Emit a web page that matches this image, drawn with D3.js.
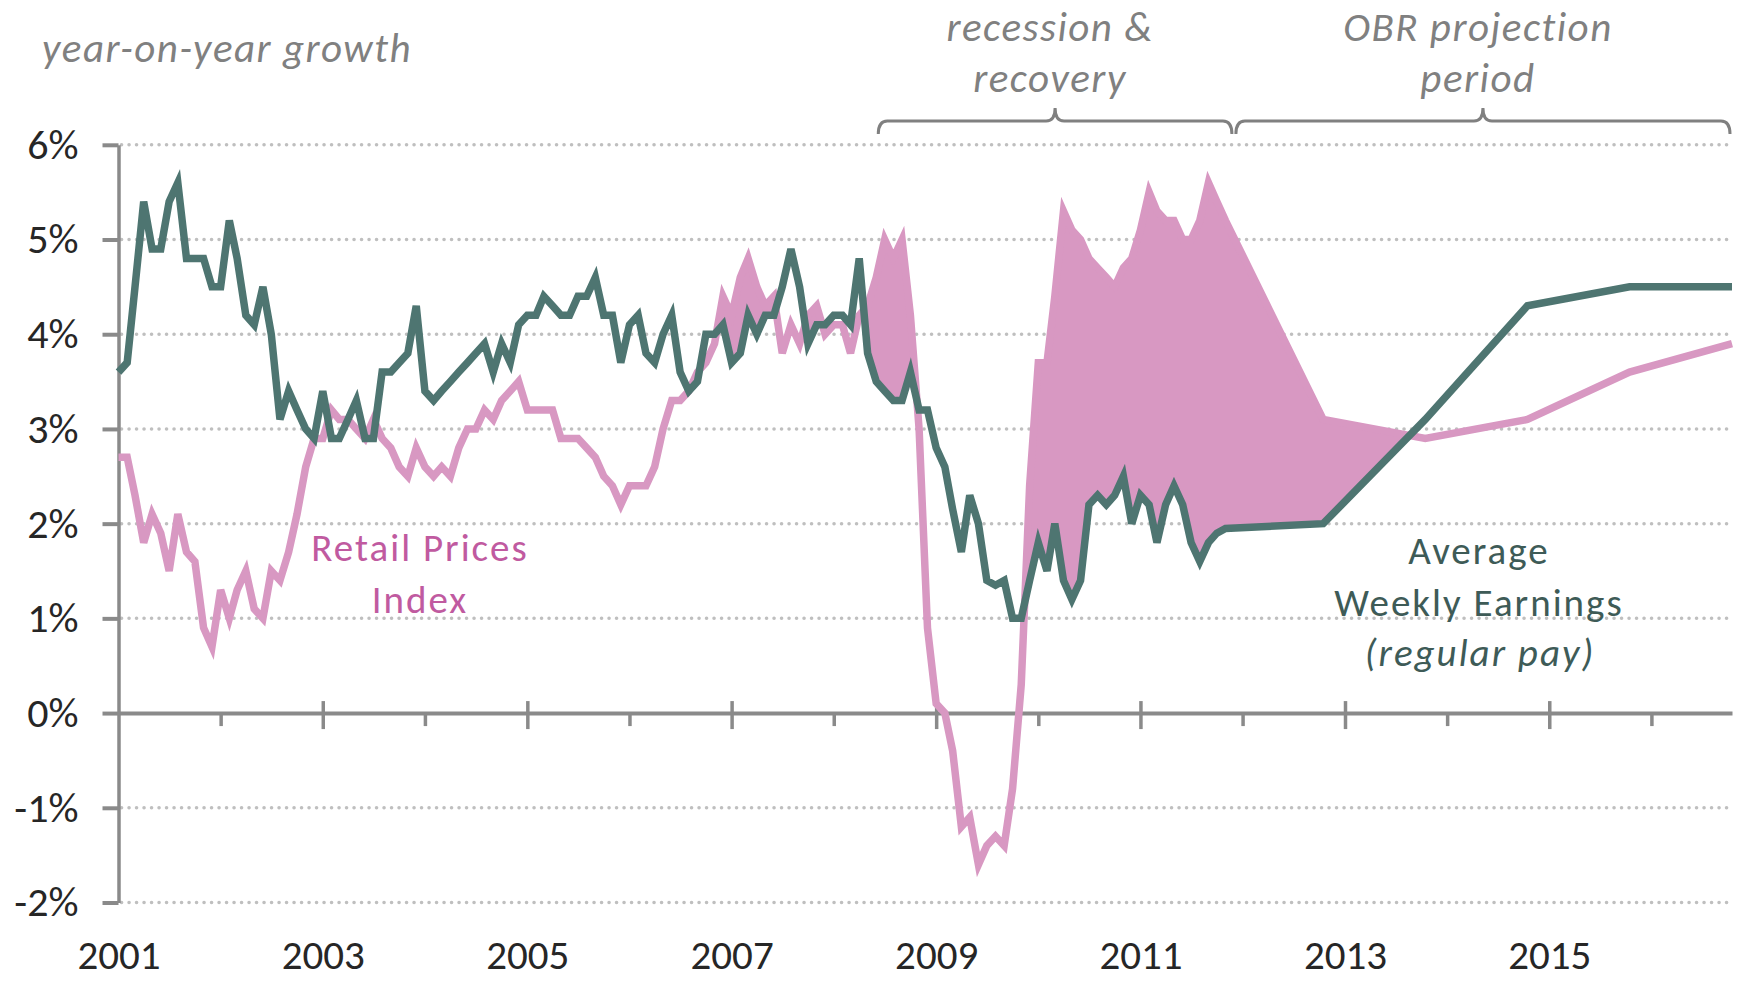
<!DOCTYPE html>
<meta charset="utf-8">
<style>
body { margin: 0; background: #fff; }
svg text { font-family: Carlito, Lato, sans-serif; }
.grid line { stroke: #bfbfbf; stroke-width: 3.5; stroke-dasharray: 0.1 7.4; stroke-linecap: round; }
.note { font-style: italic; fill: #808080; font-size: 41px; letter-spacing: 1.5px; }
.brace { fill: none; stroke: #808080; stroke-width: 3; }
</style>
<svg width="1746" height="984"></svg>
<script src="https://d3js.org/d3.v7.min.js"></script>
<script>
// year-on-year growth, monthly from Jan 2001 to Nov 2011
var rpi = [
  2.7, 2.7, 2.3, 1.8, 2.1, 1.9, 1.5, 2.1, 1.7, 1.6, 0.9, 0.7,
  1.3, 1.0, 1.3, 1.5, 1.1, 1.0, 1.5, 1.4, 1.7, 2.1, 2.6, 2.9,
  2.9, 3.2, 3.1, 3.1, 3.0, 2.9, 3.1, 2.9, 2.8, 2.6, 2.5, 2.8,
  2.6, 2.5, 2.6, 2.5, 2.8, 3.0, 3.0, 3.2, 3.1, 3.3, 3.4, 3.5,
  3.2, 3.2, 3.2, 3.2, 2.9, 2.9, 2.9, 2.8, 2.7, 2.5, 2.4, 2.2,
  2.4, 2.4, 2.4, 2.6, 3.0, 3.3, 3.3, 3.4, 3.6, 3.7, 3.9, 4.4,
  4.2, 4.6, 4.8, 4.5, 4.3, 4.4, 3.8, 4.1, 3.9, 4.2, 4.3, 4.0,
  4.1, 4.1, 3.8, 4.2, 4.3, 4.6, 5.0, 4.8, 5.0, 4.2, 3.0, 0.9,
  0.1, 0.0, -0.4, -1.2, -1.1, -1.6, -1.4, -1.3, -1.4, -0.8, 0.3, 2.4,
  3.7, 3.7, 4.4, 5.3, 5.1, 5.0, 4.8, 4.7, 4.6, 4.5, 4.7, 4.8,
  5.1, 5.5, 5.3, 5.2, 5.2, 5.0, 5.0, 5.2, 5.6, 5.4, 5.2
];
var awe = [
  3.6, 3.7, 4.5, 5.4, 4.9, 4.9, 5.4, 5.6, 4.8, 4.8, 4.8, 4.5,
  4.5, 5.2, 4.8, 4.2, 4.1, 4.5, 4.0, 3.1, 3.4, 3.2, 3.0, 2.9,
  3.4, 2.9, 2.9, 3.1, 3.3, 2.9, 2.9, 3.6, 3.6, 3.7, 3.8, 4.3,
  3.4, 3.3, 3.4, 3.5, 3.6, 3.7, 3.8, 3.9, 3.6, 3.9, 3.7, 4.1,
  4.2, 4.2, 4.4, 4.3, 4.2, 4.2, 4.4, 4.4, 4.6, 4.2, 4.2, 3.7,
  4.1, 4.2, 3.8, 3.7, 4.0, 4.2, 3.6, 3.4, 3.5, 4.0, 4.0, 4.1,
  3.7, 3.8, 4.2, 4.0, 4.2, 4.2, 4.5, 4.9, 4.5, 3.9, 4.1, 4.1,
  4.2, 4.2, 4.1, 4.8, 3.8, 3.5, 3.4, 3.3, 3.3, 3.6, 3.2, 3.2,
  2.8, 2.6, 2.15, 1.7, 2.3, 2.0, 1.4, 1.35, 1.4, 1.0, 1.0, 1.4,
  1.8, 1.5, 2.0, 1.4, 1.2, 1.4, 2.2, 2.3, 2.2, 2.3, 2.5, 2.0,
  2.3, 2.2, 1.8, 2.2, 2.4, 2.2, 1.8, 1.6, 1.8, 1.9, 1.95
];
// OBR projection points
var projDates = ["2012-10-15", "2013-10-15", "2014-10-15", "2015-10-15", "2016-10-15"];
var rpiProj = [3.1, 2.9, 3.1, 3.6, 3.9];
var aweProj = [2.0, 3.1, 4.3, 4.5, 4.5];

var yTicks = [-2, -1, 0, 1, 2, 3, 4, 5, 6];
var labelYears = [2001, 2003, 2005, 2007, 2009, 2011, 2013, 2015];
var minorYears = [2002, 2004, 2006, 2008, 2010, 2012, 2014, 2016];
var fillFrom = "2006-01-01";
var periods = [
  {from: "2008-06-01", to: "2011-12-01", lines: ["recession &", "recovery"]},
  {from: "2011-12-01", to: "2016-10-15", lines: ["OBR projection", "period"]}
];

var svg = d3.select("svg");
var parse = d3.timeParse("%Y-%m-%d");

var dates = rpi.map(function(d, i) { return new Date(2001, i, 1); })
  .concat(projDates.map(parse));
var series = dates.map(function(d, i) {
  return {
    date: d,
    r: i < rpi.length ? rpi[i] : rpiProj[i - rpi.length],
    a: i < awe.length ? awe[i] : aweProj[i - awe.length]
  };
});

var x = d3.scaleTime()
    .domain([new Date(2001, 0, 1), parse("2016-10-15")])
    .range([118.5, 1732]);
var y = d3.scaleLinear()
    .domain([-2, 6])
    .range([902.5, 144.8]);

// dotted gridlines
svg.append("g").attr("class", "grid")
  .selectAll("line")
  .data(yTicks.filter(function(d) { return d !== 0; }))
  .enter().append("line")
    .attr("x1", x.range()[0] + 3)
    .attr("x2", x.range()[1])
    .attr("y1", function(d) { return y(d); })
    .attr("y2", function(d) { return y(d); });

// shaded gap where prices outgrow earnings
var band = [];
var pts = series.filter(function(d) { return d.date >= parse(fillFrom); });
pts.forEach(function(p, i) {
  if (i > 0) {
    var q = pts[i - 1], d0 = q.r - q.a, d1 = p.r - p.a;
    if (d0 * d1 < 0) {
      var t = d0 / (d0 - d1);
      var v = q.a + t * (p.a - q.a);
      band.push({date: new Date(+q.date + t * (p.date - q.date)), r: v, a: v});
    }
  }
  band.push(p);
});

svg.append("path")
    .datum(band)
    .attr("fill", "#d898c2")
    .attr("d", d3.area()
      .x(function(d) { return x(d.date); })
      .y0(function(d) { return y(d.a); })
      .y1(function(d) { return y(Math.max(d.r, d.a)); }));

// y axis
var yAxis = svg.append("g")
    .attr("transform", "translate(" + x.range()[0] + ",0)")
    .call(d3.axisLeft(y)
      .tickValues(yTicks)
      .tickSize(16)
      .tickSizeOuter(0)
      .tickPadding(24)
      .tickFormat(function(d) { return d + "%"; }));
yAxis.attr("color", "#8a8a8a").attr("font-size", 42).attr("font-family", null);
yAxis.select(".domain").attr("stroke-width", 3.5);
yAxis.selectAll(".tick line").attr("stroke-width", 4);
yAxis.selectAll(".tick text").attr("fill", "#262626");

// x axis along 0%
var yearDate = function(yr) { return new Date(yr, 0, 1); };
var xAxis = svg.append("g")
    .attr("transform", "translate(0," + y(0) + ")")
    .call(d3.axisBottom(x)
      .tickValues(labelYears.slice(1).map(yearDate))
      .tickSize(16)
      .tickSizeOuter(0)
      .tickFormat(""));
xAxis.attr("color", "#8a8a8a");
xAxis.select(".domain").attr("stroke-width", 4);
xAxis.selectAll(".tick line").attr("y1", -12).attr("stroke-width", 3.5);

var xMinor = svg.append("g")
    .attr("transform", "translate(0," + y(0) + ")")
    .call(d3.axisBottom(x)
      .tickValues(minorYears.map(yearDate))
      .tickSize(13)
      .tickFormat(""));
xMinor.attr("color", "#8a8a8a");
xMinor.select(".domain").remove();
xMinor.selectAll(".tick line").attr("stroke-width", 3.5);

// year labels sit below the plot
var xLabels = svg.append("g")
    .attr("transform", "translate(0," + y(-2) + ")")
    .call(d3.axisBottom(x)
      .tickValues(labelYears.map(yearDate))
      .tickSize(0)
      .tickPadding(37)
      .tickFormat(d3.timeFormat("%Y")));
xLabels.select(".domain").remove();
xLabels.attr("font-size", 41).attr("font-family", null);
xLabels.selectAll("text").attr("fill", "#262626");

// lines
var line = function(key) {
  return d3.line()
    .x(function(d) { return x(d.date); })
    .y(function(d) { return y(d[key]); });
};
svg.append("path")
    .datum(series)
    .attr("fill", "none")
    .attr("stroke", "#d898c2")
    .attr("stroke-width", 7.5)
    .attr("d", line("r"));
svg.append("path")
    .datum(series)
    .attr("fill", "none")
    .attr("stroke", "#4e7571")
    .attr("stroke-width", 7.5)
    .attr("d", line("a"));

// period braces
periods.forEach(function(p) {
  var x1 = x(parse(p.from)) + 2, x2 = x(parse(p.to)) - 2, xm = (x1 + x2) / 2;
  var yb = 121, r = 9;
  svg.append("path")
      .attr("class", "brace")
      .attr("d", "M" + x1 + "," + (yb + 13) +
        "Q" + x1 + "," + yb + " " + (x1 + r) + "," + yb +
        "L" + (xm - r) + "," + yb +
        "Q" + xm + "," + yb + " " + xm + "," + (yb - 13) +
        "Q" + xm + "," + yb + " " + (xm + r) + "," + yb +
        "L" + (x2 - r) + "," + yb +
        "Q" + x2 + "," + yb + " " + x2 + "," + (yb + 13));
  p.lines.forEach(function(t, i) {
    svg.append("text")
        .attr("class", "note")
        .attr("x", xm - 5)
        .attr("y", 41 + i * 51)
        .attr("text-anchor", "middle")
        .text(t);
  });
});

svg.append("text")
    .attr("class", "note")
    .attr("x", 42)
    .attr("y", 62)
    .text("year-on-year growth");

// series labels
var rpiLabel = svg.append("text")
    .attr("fill", "#c05aa0")
    .attr("font-size", 39)
    .attr("letter-spacing", 2)
    .attr("text-anchor", "middle");
rpiLabel.append("tspan").attr("x", 420).attr("y", 561).text("Retail Prices");
rpiLabel.append("tspan").attr("x", 420).attr("y", 613).text("Index");

var aweLabel = svg.append("text")
    .attr("fill", "#3e5b57")
    .attr("font-size", 39)
    .attr("letter-spacing", 2)
    .attr("text-anchor", "middle");
aweLabel.append("tspan").attr("x", 1479).attr("y", 564).text("Average");
aweLabel.append("tspan").attr("x", 1479).attr("y", 616).text("Weekly Earnings");
aweLabel.append("tspan").attr("x", 1480).attr("y", 666).attr("font-style", "italic").text("(regular pay)");
</script>
